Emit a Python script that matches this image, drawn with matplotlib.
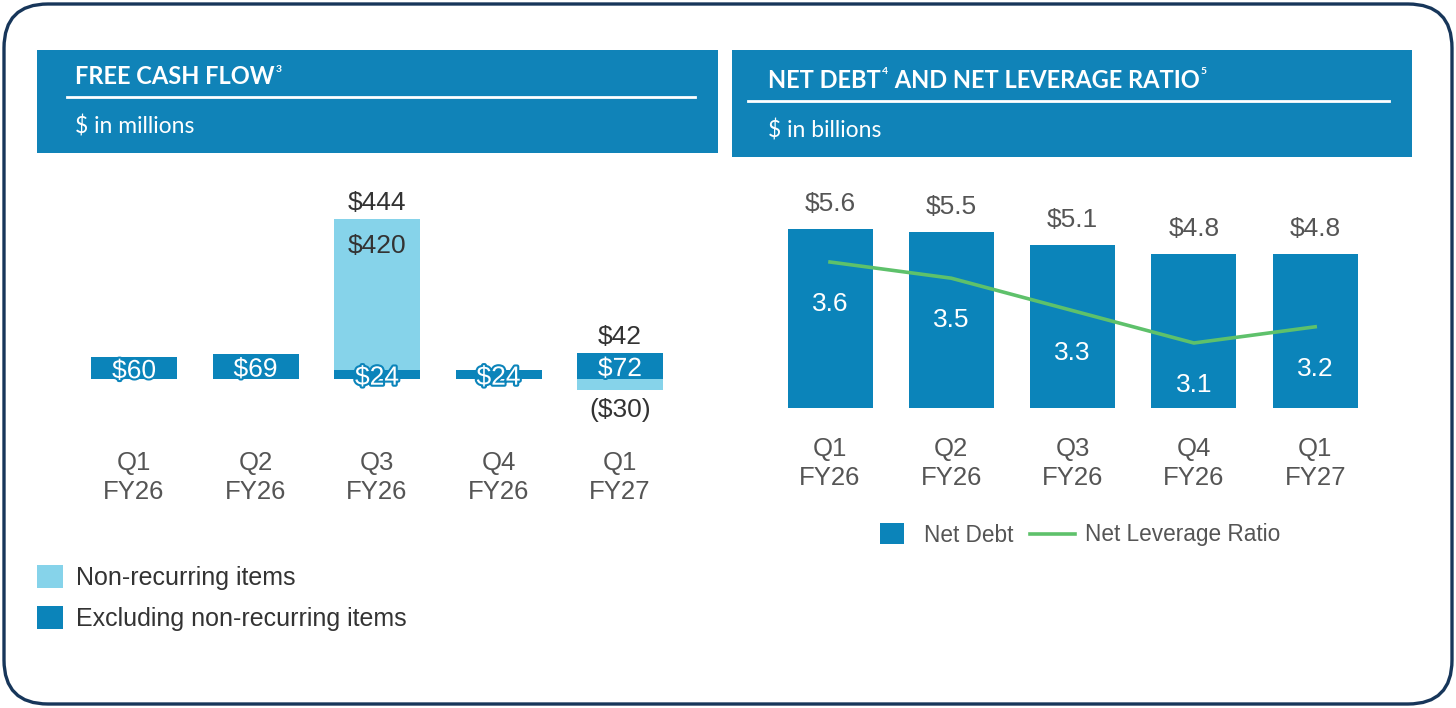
import matplotlib.pyplot as plt
import matplotlib.patheffects as pe
from matplotlib.patches import FancyBboxPatch, Rectangle
import numpy as np

plt.rcParams['font.family'] = ['Liberation Sans', 'DejaVu Sans']

# data
quarters = ["Q1\nFY26", "Q2\nFY26", "Q3\nFY26", "Q4\nFY26", "Q1\nFY27"]
fcf_excl = [60, 69, 24, 24, 72]
fcf_nonrec = [0, 0, 420, 0, -30]
fcf_total = [None, None, 444, None, 42]

net_debt = [5.6, 5.5, 5.1, 4.8, 4.8]
net_leverage = [3.6, 3.5, 3.3, 3.1, 3.2]

DARK = '#0b84ba'
LIGHT = '#86d3ea'
HEAD = '#1083b8'
GREEN = '#5ec16b'
W, H = 1456, 708

fig = plt.figure(figsize=(W / 100, H / 100), dpi=100)
renderer = fig.canvas.get_renderer()

def px_axes(x0, y0, x1, y1):
    return fig.add_axes([x0 / W, 1 - y1 / H, (x1 - x0) / W, (y1 - y0) / H])

# background layer in pixel coords
bg = fig.add_axes([0, 0, 1, 1])
bg.set_xlim(0, W)
bg.set_ylim(H, 0)
bg.axis('off')
bg.add_patch(FancyBboxPatch((4, 4), W - 8, H - 8,
                            boxstyle="round,pad=0,rounding_size=44",
                            facecolor='white', edgecolor='#17365a', lw=2.4))
bg.add_patch(Rectangle((37, 50), 681, 103, color=HEAD, lw=0))
bg.add_patch(Rectangle((732, 50), 680, 107, color=HEAD, lw=0))
bg.plot([67, 695], [97, 97], color='white', lw=2)
bg.plot([748, 1389], [101, 101], color='white', lw=2)
hfont = ['Lato', 'DejaVu Sans']

def header_title(x, y, parts):
    # parts alternate: normal text, superscript, normal text, ...
    for j, p in enumerate(parts):
        if j % 2 == 0:
            t = bg.text(x, y, p, color='white', fontsize=17, fontweight='bold',
                        family=hfont, va='center', ha='left')
        else:
            t = bg.text(x + 1, y - 8, p, color='white', fontsize=7.5,
                        fontweight='bold', family=hfont, va='center', ha='left')
        bb = t.get_window_extent(renderer)
        x = bb.x1 + (1 if j % 2 else 0)

header_title(75, 77, ["FREE CASH FLOW", "3"])
bg.text(75, 126, "$ in millions", color='white', fontsize=16.5,
        family=hfont, va='center', ha='left')
header_title(768, 80, ["NET DEBT", "4", " AND NET LEVERAGE RATIO", "5"])
bg.text(768, 130, "$ in billions", color='white', fontsize=16.5,
        family=hfont, va='center', ha='left')

# ---- free cash flow ----
k = 0.36  # px per $M
ax1 = px_axes(50, 160, 700, 440)
ax1.set_ylim(-(440 - 379) / k, (379 - 160) / k)
ax1.set_xlim((50 - 134) / 121.5, (700 - 134) / 121.5)
x = np.arange(len(quarters))
bw = 86 / 121.5
b_ex = ax1.bar(x, fcf_excl, bw, color=DARK, label="Excluding non-recurring items")
nr_bottom = [e if n > 0 else 0 for e, n in zip(fcf_excl, fcf_nonrec)]
b_nr = ax1.bar(x, fcf_nonrec, bw, bottom=nr_bottom, color=LIGHT,
               label="Non-recurring items")

stroke = [pe.withStroke(linewidth=3, foreground=DARK)]
for i in range(len(quarters)):
    ax1.annotate(f"${fcf_excl[i]}", (x[i], fcf_excl[i] / 2), xytext=(0, -3),
                 textcoords='offset pixels', ha='center', va='center',
                 color='white', fontsize=19, path_effects=stroke)
    n = fcf_nonrec[i]
    if n > 0:
        ax1.annotate(f"${n}", (x[i], nr_bottom[i] + n), xytext=(0, -27),
                     textcoords='offset pixels', ha='center', va='center',
                     color='#333333', fontsize=19)
    elif n < 0:
        ax1.annotate(f"(${-n})", (x[i], n), xytext=(0, -20),
                     textcoords='offset pixels', ha='center', va='center',
                     color='#333333', fontsize=19)
    if fcf_total[i] is not None:
        top = max(fcf_excl[i], nr_bottom[i] + max(n, 0))
        ax1.annotate(f"${fcf_total[i]}", (x[i], top), xytext=(0, 16),
                     textcoords='offset pixels', ha='center', va='center',
                     color='#333333', fontsize=19)

ax1.set_xticks(x)
ax1.set_xticklabels(quarters, fontsize=18.5, color='#555555', linespacing=1.27)
ax1.tick_params(axis='x', length=0, pad=8)
ax1.set_yticks([])
for s in ax1.spines.values():
    s.set_visible(False)

fig.legend(handles=[b_nr, b_ex], labels=["Non-recurring items", "Excluding non-recurring items"],
           loc='upper left', bbox_to_anchor=(37 / W, 1 - 565 / H), frameon=False,
           fontsize=18, handlelength=1.05, handleheight=1.05, handletextpad=0.5,
           labelspacing=0.62, labelcolor='#333333', borderpad=0, borderaxespad=0)

# ---- net debt and leverage ----
kd = 32.0  # px per $B
ax2 = px_axes(760, 170, 1400, 420)
ax2.set_ylim(-(420 - 408) / kd, (408 - 170) / kd)
ax2.set_xlim((760 - 830) / 121.3, (1400 - 830) / 121.3)
b_nd = ax2.bar(x, net_debt, 85 / 121.3, color=DARK, label="Net Debt")
for i, v in enumerate(net_debt):
    ax2.annotate(f"${v}", (x[i], v), xytext=(0, 25), textcoords='offset pixels',
                 ha='center', va='center', color='#555555', fontsize=19)
ax2.set_xticks(x)
ax2.set_xticklabels(quarters, fontsize=18.5, color='#555555', linespacing=1.3)
ax2.tick_params(axis='x', length=0, pad=12)
ax2.set_yticks([])
for s in ax2.spines.values():
    s.set_visible(False)

kr = 162.0  # px per ratio unit
ax3 = ax2.twinx()
ax3.set_ylim(3.6 - (420 - 262) / kr, 3.6 + (262 - 170) / kr)
ln, = ax3.plot(x, net_leverage, color=GREEN, lw=2.6, label="Net Leverage Ratio")
for i, v in enumerate(net_leverage):
    ax3.annotate(f"{v}", (x[i], v), xytext=(0, -42), textcoords='offset pixels',
                 ha='center', va='center', color='white', fontsize=19)
ax3.set_yticks([])
for s in ax3.spines.values():
    s.set_visible(False)

fig.legend(handles=[b_nd], labels=["Net Debt"], loc='center left',
           bbox_to_anchor=(880 / W, 1 - 535 / H), frameon=False, fontsize=16.3,
           handlelength=1.05, handleheight=1.05, handletextpad=0.9,
           labelcolor='#555555', borderpad=0, borderaxespad=0)
fig.legend(handles=[ln], labels=["Net Leverage Ratio"], loc='center left',
           bbox_to_anchor=(1030 / W, 1 - 535 / H), frameon=False, fontsize=16.3,
           handlelength=2.0, handletextpad=0.45,
           labelcolor='#555555', borderpad=0, borderaxespad=0)

fig.savefig("out.png", dpi=100)
